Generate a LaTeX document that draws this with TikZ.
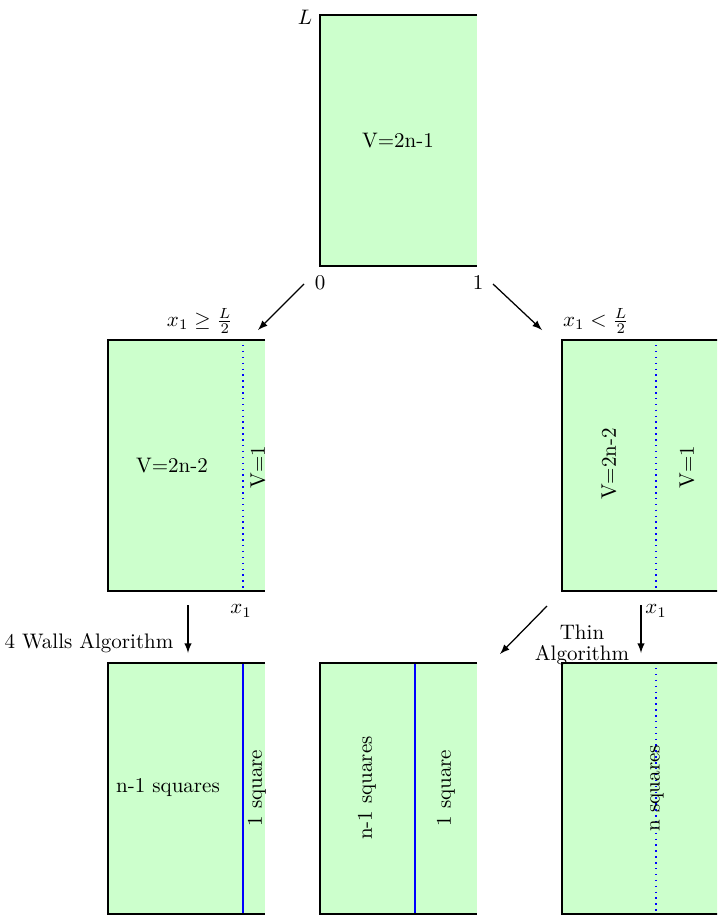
\documentclass[tikz,border=0pt]{standalone}
\usepackage{amsmath}
\usetikzlibrary{arrows.meta, positioning}

\tikzset{
	panel/.style={fill=green!20},
	rim/.style={thick},
	cutline/.style={blue, semithick},
	cutdots/.style={blue, line width=0.7pt, dash pattern=on 0.7pt off 2.1pt},
	flow/.style={-latex, semithick}
}

\begin{document}
\begin{tikzpicture}[x=0.476pt, y=-0.476pt]
	\useasboundingbox (0,0) rectangle (717,922);
	\clip (0,0) rectangle (717,922);

	% the six boxes, open on the right
	\foreach \bx/\by in {320/15, 108/340, 562/340, 108/663, 320/663, 562/663}{
		\fill[panel] (\bx,\by) rectangle ++(157,251);
		\draw[rim] (\bx+157,\by) -- (\bx,\by) -- (\bx,\by+251) -- (\bx+157,\by+251);
	}

	% cuts
	\draw[cutdots] (243,345) -- (243,590);
	\draw[cutdots] (656,345) -- (656,590);
	\draw[cutline] (243,664) -- (243,913);
	\draw[cutline] (415,664) -- (415,913);
	\draw[cutdots] (656,668) -- (656,912);

	% top box
	\node (lenL) at (305,17) {$L$};
	\node (vtop) at (398,141) {V=2n-1};
	\node (zero) at (320,283) {0};
	\node (one) at (478,283) {1};

	% middle row
	\node[inner sep=1pt] (condge) at (200,321) {$x_1 \geq \frac{L}{2}$};
	\node[inner sep=1pt] (condlt) at (596,321) {$x_1 < \frac{L}{2}$};
	\node (vmidl) at (172,466) {V=2n-2};
	\node[rotate=90] (vonel) at (258,467) {V=1};
	\node[rotate=90] (vmidr) at (609,464) {V=2n-2};
	\node[rotate=90] (voner) at (687,467) {V=1};
	\node (xleft) at (241,611) {$x_1$};
	\node (xright) at (656,611) {$x_1$};

	% algorithms
	\node (walls) at (89,643) {4 Walls Algorithm};
	\node[align=center] (thin) at (582,645) {Thin\\[-2pt]Algorithm};

	% bottom row
	\node (sqleft) at (168,788) {n-1 squares};
	\node[rotate=90] (oneleft) at (257,788) {1 square};
	\node[rotate=90] (sqmid) at (367,788) {n-1 squares};
	\node[rotate=90] (onemid) at (446,788) {1 square};
	\node[rotate=90] (sqright) at (657,788) {n squares};

	% arrows
	\coordinate (a0) at (304,284);
	\coordinate (b0) at (258,330);
	\coordinate (a1) at (493,284);
	\coordinate (b1) at (542,330);
	\coordinate (a2) at (188,605);
	\coordinate (b2) at (188,653);
	\coordinate (a3) at (641,605);
	\coordinate (b3) at (641,653);
	\coordinate (a4) at (547,606);
	\coordinate (b4) at (500,654);
	\draw[flow] (a0) -- (b0);
	\draw[flow] (a1) -- (b1);
	\draw[flow] (a2) -- (b2);
	\draw[flow] (a3) -- (b3);
	\draw[flow] (a4) -- (b4);
\end{tikzpicture}
\end{document}
